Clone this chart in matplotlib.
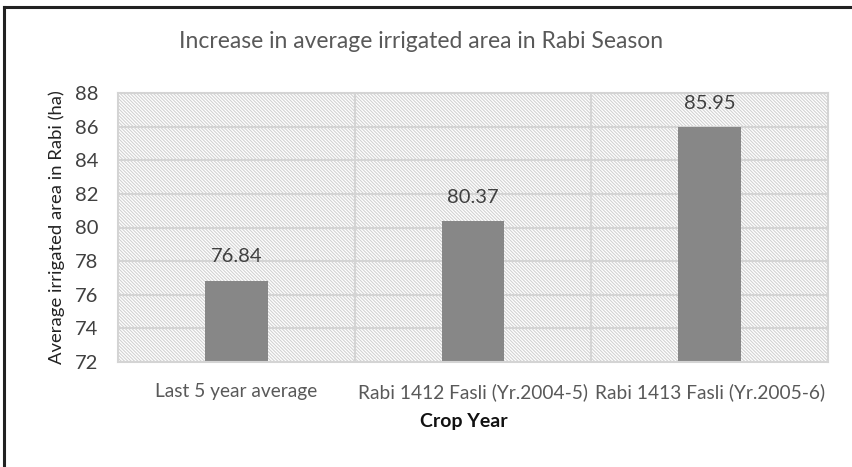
import matplotlib
matplotlib.use("Agg")
import matplotlib.pyplot as plt
from matplotlib.patches import Rectangle
import matplotlib.lines as mlines

categories = ["Last 5 year average", "Rabi 1412 Fasli (Yr.2004-5)", "Rabi 1413 Fasli (Yr.2005-6)"]
values = [76.84, 80.37, 85.95]
yticks = [72, 74, 76, 78, 80, 82, 84, 86, 88]

BS = chr(92)
plt.rcParams['hatch.linewidth'] = 0.8
plt.rcParams['hatch.color'] = '#d2d2d2'

fig = plt.figure(figsize=(8.53, 4.67), dpi=100)
ax = fig.add_axes([118 / 853, 1 - 362 / 467, (828 - 118) / 853, (362 - 93) / 467])

x = list(range(len(categories)))
ax.set_xlim(-0.5, len(categories) - 0.5)
ax.set_ylim(yticks[0], yticks[-1])

# hatched plot-area background
bg = Rectangle((0, 0), 1, 1, transform=ax.transAxes, facecolor='white',
               edgecolor='#d2d2d2', hatch=BS * 10, linewidth=0, zorder=0)
ax.add_patch(bg)

ax.set_yticks(yticks)
ax.yaxis.grid(True, color='#d4d4d4', linewidth=1.5, zorder=1)
for b in [0.5, 1.5]:
    ax.axvline(b, color='#d4d4d4', linewidth=1.5, zorder=1)

bars = ax.bar(x, values, width=0.266, color='#878787', zorder=2)
for xi, v in zip(x, values):
    ax.text(xi, v + 0.9, f"{v:.2f}", ha='center', va='bottom', fontsize=14.5,
            color='#404040', family='Lato', zorder=3)

for s in ax.spines.values():
    s.set_color('#d4d4d4')
    s.set_linewidth(1.5)

ax.tick_params(length=0)
ax.set_xticks(x)
ax.set_xticklabels(categories, fontsize=13.8, color='#595959', family='Lato')
for lab in ax.get_yticklabels():
    lab.set_fontsize(14.5)
    lab.set_color('#404040')
    lab.set_family('Lato')
ax.tick_params(axis='y', pad=14)
ax.tick_params(axis='x', pad=15)

ax.set_ylabel("Average irrigated area in Rabi (ha)", fontsize=13.3, color='#222222',
              family='Lato', labelpad=7)
ax.set_xlabel("Crop Year", fontsize=14, fontweight='bold', color='#111111',
              family='Lato', labelpad=8)
ax.xaxis.set_label_coords((464 - 118) / 710, -0.19)

fig.text(421 / 853, 1 - 42 / 467, "Increase in average irrigated area in Rabi Season",
         ha='center', va='center', fontsize=16.5, color='#595959', family='Lato')

# outer frame edges along the left and top of the figure
fig.add_artist(mlines.Line2D([4.5 / 853, 4.5 / 853], [0, 1 - 6.5 / 467],
                             transform=fig.transFigure, color='#222222', linewidth=2.2))
fig.add_artist(mlines.Line2D([4.5 / 853, 1], [1 - 6.5 / 467, 1 - 6.5 / 467],
                             transform=fig.transFigure, color='#222222', linewidth=2.2))

fig.savefig("out.png", dpi=100)
